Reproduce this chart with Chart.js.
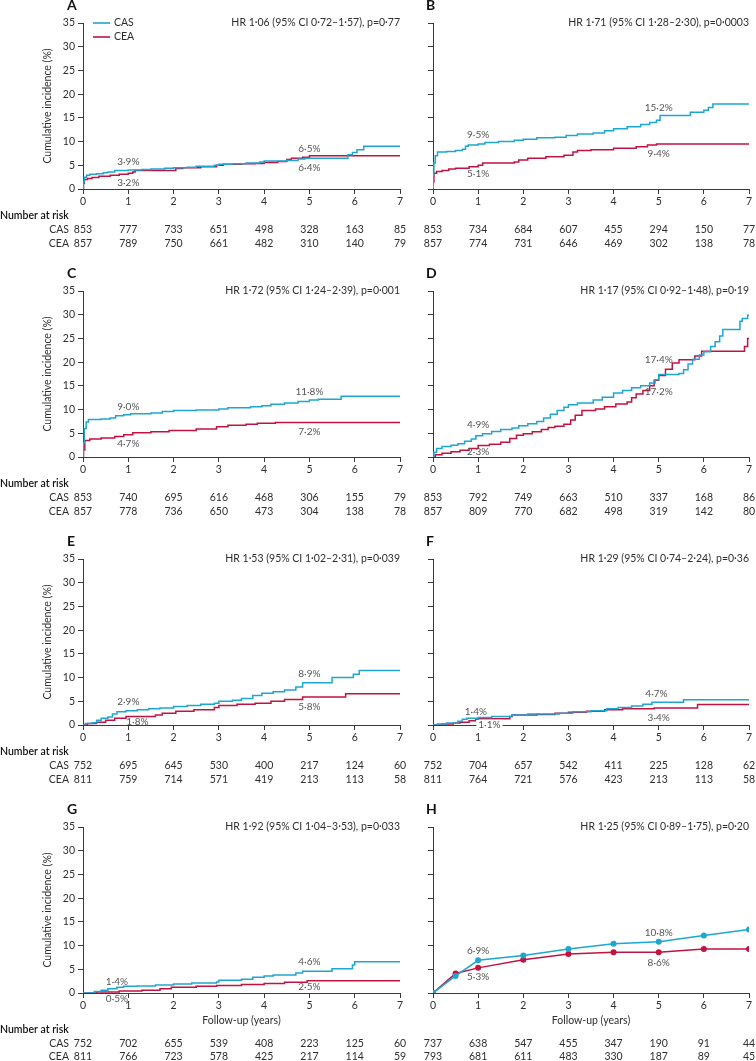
<!DOCTYPE html>
<html><head><meta charset="utf-8">
<script src="https://cdn.jsdelivr.net/npm/chart.js@4/dist/chart.umd.min.js"></script>
<style>
html,body{margin:0;padding:0;background:#fff;}
body{width:756px;height:1061px;overflow:hidden;position:relative;}
canvas{position:absolute;}
</style></head><body>
<script>
// ---------- DATA ----------
const YEARS = [0,1,2,3,4,5,6,7];

const A_CAS = [[0,0],[0.01,1.5],[0.03,2.5],[0.08,2.9],[0.15,3.1],[0.3,3.2],[0.45,3.4],[0.55,3.6],[0.7,3.9],[1.0,4.0],[1.3,4.1],[1.5,4.2],[1.8,4.4],[2.0,4.5],[2.3,4.6],[2.5,4.8],[2.9,5.0],[3.0,5.2],[3.3,5.3],[3.6,5.5],[3.9,5.7],[4.0,5.9],[4.5,6.0],[4.75,6.3],[4.9,6.5],[5.85,7.2],[5.95,7.7],[6.05,8.3],[6.2,9.0],[7,9.0]];
const A_CEA = [[0,0],[0.01,1.2],[0.03,2.0],[0.1,2.2],[0.2,2.4],[0.35,2.7],[0.6,2.9],[0.8,3.1],[1.0,3.3],[1.1,3.6],[1.15,3.9],[2.05,4.3],[2.2,4.5],[2.6,4.7],[2.95,5.0],[3.1,5.2],[3.5,5.3],[3.8,5.4],[4.0,5.6],[4.3,5.8],[4.5,6.2],[4.6,6.5],[4.85,6.7],[5.0,7.0],[7,7.0]];
const B_CAS = [[0,0],[0.005,3],[0.02,5.5],[0.05,7.0],[0.1,7.8],[0.3,7.9],[0.5,8.1],[0.65,8.4],[0.72,9.0],[0.78,9.3],[1.0,9.5],[1.15,9.8],[1.45,10.0],[1.8,10.3],[2.0,10.5],[2.3,10.8],[2.7,10.9],[2.95,11.3],[3.2,11.6],[3.55,11.8],[3.8,12.3],[4.0,12.7],[4.3,13.1],[4.6,13.6],[4.8,14.0],[4.95,14.5],[5.03,15.5],[5.7,16.2],[6.0,16.6],[6.1,17.2],[6.2,17.9],[7,17.9]];
const B_CEA = [[0,0],[0.005,1.5],[0.02,3.3],[0.08,3.7],[0.2,3.9],[0.35,4.2],[0.5,4.4],[0.8,4.7],[1.0,5.0],[1.1,5.5],[1.8,5.7],[1.9,6.1],[2.1,6.5],[2.5,6.8],[2.9,7.1],[3.1,7.8],[3.2,8.1],[3.5,8.3],[4.0,8.6],[4.5,8.9],[4.75,9.3],[4.95,9.5],[7,9.5]];
const C_CAS = [[0,0],[0.01,3],[0.03,6.0],[0.07,7.4],[0.12,7.9],[0.4,8.0],[0.6,8.2],[0.72,8.7],[0.9,8.9],[1.05,9.1],[1.5,9.3],[1.75,9.6],[2.0,9.8],[2.5,9.9],[3.0,10.1],[3.2,10.4],[3.7,10.6],[3.95,10.8],[4.15,11.1],[4.45,11.4],[4.75,11.7],[5.0,12.0],[5.2,12.2],[5.7,12.8],[7,12.8]];
const C_CEA = [[0,0],[0.01,1.5],[0.04,3.5],[0.15,3.8],[0.4,4.0],[0.7,4.3],[0.9,4.7],[1.1,5.1],[1.5,5.3],[1.9,5.6],[2.5,5.9],[2.95,6.4],[3.2,6.7],[3.6,6.9],[3.85,7.1],[4.25,7.3],[7,7.3]];
const D_CAS = [[0,0],[0.02,1.0],[0.08,1.8],[0.2,2.2],[0.4,2.5],[0.55,2.8],[0.7,3.3],[0.85,3.8],[0.95,4.5],[1.1,4.9],[1.3,5.4],[1.5,5.8],[1.75,6.1],[1.9,6.6],[2.1,7.0],[2.3,7.5],[2.45,8.2],[2.6,9.0],[2.75,9.8],[2.9,10.5],[3.0,11.0],[3.2,11.4],[3.55,12.0],[3.75,12.6],[4.0,13.5],[4.2,14.0],[4.4,14.6],[4.6,15.0],[4.8,15.6],[4.92,16.3],[5.0,17.4],[5.45,17.6],[5.55,18.4],[5.65,19.6],[5.75,20.6],[5.9,21.5],[6.0,22.2],[6.15,23.3],[6.25,24.3],[6.35,25.5],[6.42,26.9],[6.8,28.6],[6.85,29.2],[6.97,29.9],[7,29.9]];
const D_CEA = [[0,0],[0.05,0.5],[0.2,0.8],[0.4,1.1],[0.6,1.4],[0.8,1.8],[1.0,2.4],[1.25,2.7],[1.5,3.1],[1.7,3.9],[1.85,4.6],[2.0,4.9],[2.2,5.3],[2.4,5.8],[2.55,6.2],[2.7,6.5],[2.9,6.9],[3.05,7.8],[3.15,8.8],[3.3,9.8],[3.6,10.1],[3.8,10.6],[4.05,11.2],[4.3,11.6],[4.4,12.5],[4.5,13.3],[4.65,14.0],[4.8,15.0],[4.9,16.2],[5.0,17.2],[5.15,18.5],[5.3,19.8],[5.45,20.5],[5.8,21.3],[5.95,22.3],[6.9,23.3],[6.97,25.0],[7,25.0]];
const E_CAS = [[0,0],[0.05,0.3],[0.2,0.5],[0.3,1.0],[0.4,1.4],[0.55,1.7],[0.65,2.3],[0.75,2.8],[0.95,3.0],[1.2,3.2],[1.45,3.4],[1.7,3.6],[2.0,3.9],[2.3,4.1],[2.6,4.4],[2.9,4.6],[3.0,5.0],[3.3,5.2],[3.5,5.6],[3.75,6.2],[3.95,6.7],[4.2,7.0],[4.45,7.4],[4.7,8.0],[4.85,8.9],[5.5,10.0],[5.97,10.7],[6.1,11.5],[7,11.5]];
const E_CEA = [[0,0],[0.1,0.3],[0.3,0.6],[0.5,1.0],[0.7,1.4],[0.95,1.8],[1.6,2.1],[1.75,2.5],[2.05,2.9],[2.45,3.2],[2.9,3.7],[3.0,4.1],[3.4,4.4],[3.8,4.6],[4.15,5.0],[4.45,5.4],[4.85,5.9],[5.8,6.6],[7,6.6]];
const F_CAS = [[0,0],[0.1,0.2],[0.3,0.4],[0.55,0.8],[0.65,1.2],[0.75,1.4],[1.0,1.6],[1.3,1.8],[1.75,2.1],[2.1,2.3],[2.8,2.5],[3.1,2.8],[3.5,3.0],[3.85,3.4],[4.1,3.7],[4.4,4.0],[4.65,4.4],[4.85,4.8],[5.55,5.35],[7,5.35]];
const F_CEA = [[0,0],[0.2,0.2],[0.45,0.4],[0.6,0.6],[0.8,0.9],[0.95,1.2],[1.0,1.3],[1.7,1.8],[1.75,2.1],[2.3,2.2],[2.7,2.5],[3.0,2.7],[3.4,2.9],[3.8,3.2],[4.2,3.4],[4.9,3.6],[5.86,4.3],[7,4.3]];
const G_CAS = [[0,0],[0.25,0.3],[0.4,0.6],[0.55,0.9],[0.75,1.2],[0.9,1.4],[1.2,1.5],[1.6,1.7],[2.0,1.9],[2.4,2.1],[2.95,2.3],[3.0,2.7],[3.5,2.9],[3.75,3.3],[4.0,3.6],[4.2,3.8],[4.7,4.2],[4.85,4.6],[5.5,5.1],[5.95,5.9],[6.0,6.6],[7,6.6]];
const G_CEA = [[0,0],[0.3,0.2],[0.8,0.4],[1.3,0.6],[1.7,0.9],[1.95,1.2],[2.5,1.4],[2.95,1.6],[3.5,1.8],[4.0,2.0],[4.45,2.25],[4.95,2.6],[7,2.6]];
const H_TIMES = [0,0.5,1,2,3,4,5,6,7];
const H_CAS = [0,3.6,6.9,7.9,9.3,10.4,10.8,12.1,13.4];
const H_CEA = [0,4.1,5.3,7.0,8.2,8.6,8.6,9.3,9.3];

const A_RISK_CAS = [853,777,733,651,498,328,163,85];
const A_RISK_CEA = [857,789,750,661,482,310,140,79];
const B_RISK_CAS = [853,734,684,607,455,294,150,77];
const B_RISK_CEA = [857,774,731,646,469,302,138,78];
const C_RISK_CAS = [853,740,695,616,468,306,155,79];
const C_RISK_CEA = [857,778,736,650,473,304,138,78];
const D_RISK_CAS = [853,792,749,663,510,337,168,86];
const D_RISK_CEA = [857,809,770,682,498,319,142,80];
const E_RISK_CAS = [752,695,645,530,400,217,124,60];
const E_RISK_CEA = [811,759,714,571,419,213,113,58];
const F_RISK_CAS = [752,704,657,542,411,225,128,62];
const F_RISK_CEA = [811,764,721,576,423,213,113,58];
const G_RISK_CAS = [752,702,655,539,408,223,125,60];
const G_RISK_CEA = [811,766,723,578,425,217,114,59];
const H_RISK_CAS = [737,638,547,455,347,190,91,44];
const H_RISK_CEA = [793,681,611,483,330,187,89,45];

const A_HR = 'HR 1·06 (95% CI 0·72–1·57), p=0·77';
const B_HR = 'HR 1·71 (95% CI 1·28–2·30), p=0·0003';
const C_HR = 'HR 1·72 (95% CI 1·24–2·39), p=0·001';
const D_HR = 'HR 1·17 (95% CI 0·92–1·48), p=0·19';
const E_HR = 'HR 1·53 (95% CI 1·02–2·31), p=0·039';
const F_HR = 'HR 1·29 (95% CI 0·74–2·24), p=0·36';
const G_HR = 'HR 1·92 (95% CI 1·04–3·53), p=0·033';
const H_HR = 'HR 1·25 (95% CI 0·89–1·75), p=0·20';

// [text, year, value, pixel offset, white background]
const A_NOTES = [['3·9%',1,3.9,-9],['3·2%',1,3.2,9],['6·5%',5,6.5,-9],['6·4%',5,6.4,9]];
const B_NOTES = [['9·5%',1,9.5,-9],['5·1%',1,5.1,9],['15·2%',5,15.2,-9],['9·4%',5,9.4,9]];
const C_NOTES = [['9·0%',1,9.0,-8],['4·7%',1,4.7,9],['11·8%',5,11.8,-9],['7·2%',5,7.2,9]];
const D_NOTES = [['4·9%',1,4.9,-9],['2·3%',1,2.3,6],['17·4%',5,17.4,-15],['17·2%',5,17.2,16]];
const E_NOTES = [['2·9%',1,2.9,-9],['1·8%',1.2,1.8,5],['8·9%',5,8.9,-9],['5·8%',5,5.8,9]];
const F_NOTES = [['1·4%',0.95,1.4,-7],['1·1%',1.25,1.1,5,true],['4·7%',4.95,4.7,-9],['3·4%',5,3.4,9]];
const G_NOTES = [['1·4%',0.75,1.4,-5],['0·5%',0.75,0.5,8],['4·6%',5,4.6,-9],['2·5%',5,2.5,6]];
const H_NOTES = [['6·9%',1,6.9,-9],['5·3%',1,5.3,9],['10·8%',5,10.8,-9],['8·6%',5,8.6,11]];

const SERIES_NAMES = ['CAS','CEA'];
const Y_TITLE = 'Cumulative incidence (%)';
const X_TITLE = 'Follow-up (years)';
const RISK_TITLE = 'Number at risk';

// ---------- STYLE / LAYOUT ----------
const COL_CAS = '#1ea6d2';
const COL_CEA = '#c2123f';
const TXT = '#2e2e2e';
const NOTE_COL = '#555';
const AXIS_COL = '#3a3a3a';
const FONT = 'Lato, "Open Sans", "Noto Sans", sans-serif';
const FS = 10.5;
const ROW_TOP = [23, 291, 559, 827];
const PLOT_H = 166;
const PAD_TOP = 25;

Chart.defaults.font.family = FONT;
Chart.defaults.font.size = FS;
Chart.defaults.color = TXT;

const toPts = arr => arr.map(d => ({x: d[0], y: d[1]}));

const PANELS = [
  {id:'A', row:0, col:0, cas:toPts(A_CAS), cea:toPts(A_CEA), rc:A_RISK_CAS, re:A_RISK_CEA, hr:A_HR, notes:A_NOTES, legend:true},
  {id:'B', row:0, col:1, cas:toPts(B_CAS), cea:toPts(B_CEA), rc:B_RISK_CAS, re:B_RISK_CEA, hr:B_HR, notes:B_NOTES},
  {id:'C', row:1, col:0, cas:toPts(C_CAS), cea:toPts(C_CEA), rc:C_RISK_CAS, re:C_RISK_CEA, hr:C_HR, notes:C_NOTES},
  {id:'D', row:1, col:1, cas:toPts(D_CAS), cea:toPts(D_CEA), rc:D_RISK_CAS, re:D_RISK_CEA, hr:D_HR, notes:D_NOTES},
  {id:'E', row:2, col:0, cas:toPts(E_CAS), cea:toPts(E_CEA), rc:E_RISK_CAS, re:E_RISK_CEA, hr:E_HR, notes:E_NOTES},
  {id:'F', row:2, col:1, cas:toPts(F_CAS), cea:toPts(F_CEA), rc:F_RISK_CAS, re:F_RISK_CEA, hr:F_HR, notes:F_NOTES},
  {id:'G', row:3, col:0, cas:toPts(G_CAS), cea:toPts(G_CEA), rc:G_RISK_CAS, re:G_RISK_CEA, hr:G_HR, notes:G_NOTES},
  {id:'H', row:3, col:1, cas:H_TIMES.map((t,i)=>({x:t,y:H_CAS[i]})), cea:H_TIMES.map((t,i)=>({x:t,y:H_CEA[i]})), rc:H_RISK_CAS, re:H_RISK_CEA, hr:H_HR, notes:H_NOTES, points:true},
];

const deco = {
  id: 'deco',
  afterDraw(chart, args, p) {
    const ctx = chart.ctx, ca = chart.chartArea;
    const xs = chart.scales.x, ys = chart.scales.y;
    const left = p.col === 0;
    ctx.save();
    ctx.textBaseline = 'middle';
    // panel letter
    ctx.fillStyle = '#111';
    ctx.font = `bold 14px ${FONT}`;
    ctx.textAlign = 'left';
    ctx.fillText(p.id, ca.left - (left ? 16 : 7), ca.top - 18);
    // HR
    ctx.font = `${FS}px ${FONT}`;
    ctx.fillStyle = TXT;
    ctx.textAlign = 'right';
    ctx.fillText(p.hr, ca.right, ca.top);
    // legend
    if (p.legend) {
      [[COL_CAS, SERIES_NAMES[0], 0], [COL_CEA, SERIES_NAMES[1], 14]].forEach(([c, t, dy]) => {
        ctx.strokeStyle = c; ctx.lineWidth = 1.6;
        ctx.beginPath(); ctx.moveTo(ca.left + 10, ca.top + dy); ctx.lineTo(ca.left + 27, ca.top + dy); ctx.stroke();
        ctx.fillStyle = TXT; ctx.textAlign = 'left';
        ctx.fillText(t, ca.left + 31, ca.top + dy);
      });
    }
    // notes
    ctx.font = `${FS - 0.5}px ${FONT}`;
    ctx.textAlign = 'center';
    p.notes.forEach(n => {
      const x = xs.getPixelForValue(n[1]);
      const y = ys.getPixelForValue(n[2]) + n[3];
      if (n[4]) {
        const w = ctx.measureText(n[0]).width;
        ctx.fillStyle = '#fff';
        ctx.fillRect(x - w / 2 - 2, y - 5, w + 4, 10);
      }
      ctx.fillStyle = NOTE_COL;
      ctx.fillText(n[0], x, y);
    });
    // number at risk
    const last = p.row === 3;
    const off = last ? [37, 50.5, 64] : [27, 41, 55];
    ctx.font = `${FS}px ${FONT}`;
    if (left) {
      ctx.textAlign = 'left';
      ctx.fillStyle = '#111';
      ctx.font = `600 ${FS}px ${FONT}`;
      ctx.fillText(RISK_TITLE, 0, ca.bottom + off[0]);
      ctx.font = `${FS}px ${FONT}`;
      ctx.fillStyle = TXT;
      ctx.textAlign = 'right';
      ctx.fillText(SERIES_NAMES[0], 69, ca.bottom + off[1]);
      ctx.fillText(SERIES_NAMES[1], 69, ca.bottom + off[2]);
    }
    ctx.textAlign = 'center';
    ctx.fillStyle = TXT;
    YEARS.forEach((yr, i) => {
      const x = xs.getPixelForValue(yr);
      ctx.fillText(String(p.rc[i]), x, ca.bottom + off[1]);
      ctx.fillText(String(p.re[i]), x, ca.bottom + off[2]);
    });
    ctx.restore();
  }
};

PANELS.forEach(p => {
  const left = p.col === 0;
  const cw = left ? 410 : 356;
  const ch = p.row === 3 ? 259 : 256;
  const cx = left ? 0 : 400;
  const cy = ROW_TOP[p.row] - PAD_TOP;
  const cv = document.createElement('canvas');
  cv.width = cw; cv.height = ch;
  cv.style.left = cx + 'px'; cv.style.top = cy + 'px';
  cv.style.width = cw + 'px'; cv.style.height = ch + 'px';
  document.body.appendChild(cv);
  const ds = (data, color) => ({
    data, borderColor: color, backgroundColor: color,
    borderWidth: 1.5,
    stepped: p.points ? false : 'before',
    tension: 0,
    pointRadius: p.points ? 3 : 0,
    pointBorderWidth: 0,
    pointHoverRadius: 3,
    fill: false
  });
  new Chart(cv, {
    type: 'line',
    data: { datasets: [ds(p.cas, COL_CAS), ds(p.cea, COL_CEA)] },
    options: {
      responsive: false, animation: false, events: [],
      layout: { padding: { left: 0, right: left ? 10 : 7, top: PAD_TOP, bottom: 0 } },
      plugins: { legend: { display: false }, tooltip: { enabled: false }, deco: p },
      scales: {
        x: {
          type: 'linear', min: 0, max: 7,
          ticks: { stepSize: 1, padding: 1, color: TXT, maxRotation: 0, autoSkip: false, font: { size: FS } },
          grid: { drawOnChartArea: false, drawTicks: true, tickLength: 5, color: AXIS_COL, lineWidth: 1 },
          border: { display: true, color: AXIS_COL, width: 1 },
          title: { display: p.row === 3, text: X_TITLE, color: TXT, font: { size: FS }, padding: { top: 0, bottom: 33.7 } },
          afterFit: s => { s.height = ch - PAD_TOP - PLOT_H; }
        },
        y: {
          min: 0, max: 35,
          ticks: { stepSize: 5, display: left, padding: 3, color: TXT, font: { size: FS } },
          grid: { drawOnChartArea: false, drawTicks: true, tickLength: 5, color: AXIS_COL, lineWidth: 1 },
          border: { display: true, color: AXIS_COL, width: 1 },
          title: { display: left, text: Y_TITLE, color: TXT, font: { size: FS }, padding: { top: 41.7, bottom: 0 } },
          afterFit: s => { s.width = left ? 83 : 33; }
        }
      }
    },
    plugins: [deco]
  });
});
</script>
</body></html>
